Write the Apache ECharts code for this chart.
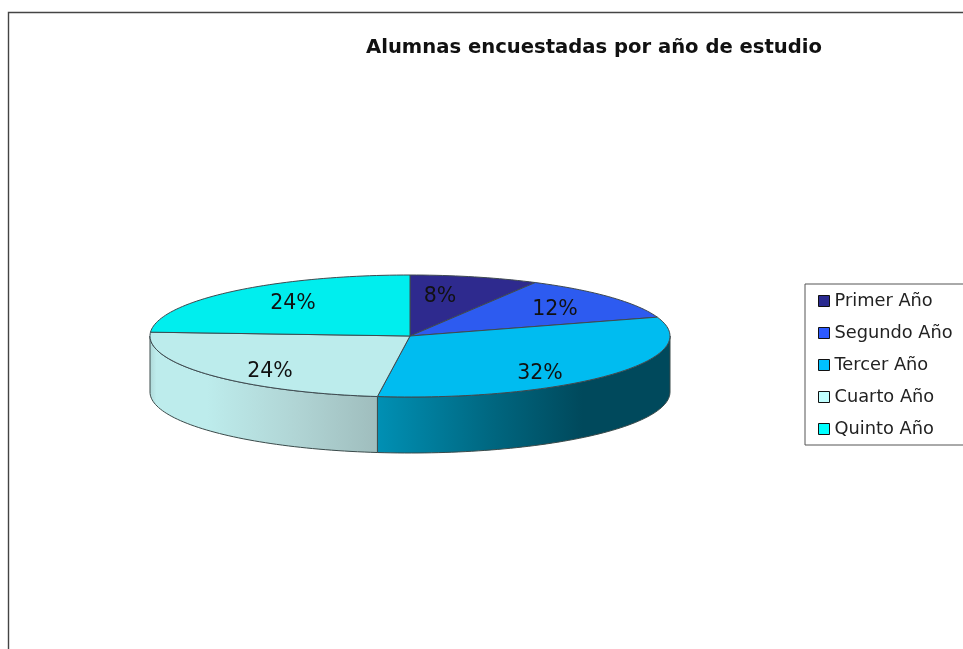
<!DOCTYPE html>
<html>
<head>
<meta charset="utf-8">
<style>html,body{margin:0;padding:0;background:#fff;overflow:hidden}#c{width:963px;height:649px;filter:blur(0.5px)}</style>
<script src="https://cdn.jsdelivr.net/npm/echarts@6/dist/echarts.min.js"></script>
</head>
<body>
<div id="c"></div>
<script>
const categories = ['Primer Año', 'Segundo Año', 'Tercer Año', 'Cuarto Año', 'Quinto Año'];
const values = [8, 12, 32, 24, 24];
const titleText = 'Alumnas encuestadas por año de estudio';

const topColors = ['#2e2a8e', '#2d5bf0', '#00bcf0', '#bcecec', '#00eeee'];
const legendColors = ['#2a2a90', '#2d5aff', '#00c0ff', '#c0ffff', '#00ffff'];
const wallStops = [
  null, null,
  [[0, '#0090b4'], [0.4, '#00667f'], [0.7, '#00495c'], [1, '#00495c']],
  [[0, '#aed8d8'], [0.03, '#bdecec'], [0.25, '#bdecec'], [0.65, '#b0d4d4'], [1, '#9fbdbd']],
  null
];
const labelCentres = [[440, 297], [555, 310], [540, 374], [270, 372], [293, 304]];

const CX = 410, CY = 336, RX = 260, RY = 61, DEPTH = 56;
const total = values.reduce((a, b) => a + b, 0);
const pt = (deg, dy) => {
  const r = deg * Math.PI / 180;
  return [CX + RX * Math.sin(r), CY - RY * Math.cos(r) + (dy || 0)];
};
const arc = (a, b, dy) => {
  const n = Math.max(2, Math.ceil(Math.abs(b - a) / 1.5));
  const out = [];
  for (let i = 0; i <= n; i++) out.push(pt(a + (b - a) * i / n, dy));
  return out;
};

function makeSeries(idx) {
  const before = values.slice(0, idx).reduce((a, b) => a + b, 0);
  return {
    type: 'custom',
    name: categories[idx],
    coordinateSystem: 'none',
    silent: true,
    z: 2,
    itemStyle: { color: legendColors[idx] },
    data: [[values[idx]]],
    renderItem: function (params, api) {
      const v = api.value(0);
      const a0 = before / total * 360;
      const a1 = (before + v) / total * 360;
      const children = [];
      const w0 = Math.max(a0, 90), w1 = Math.min(a1, 270);
      if (w1 > w0 && wallStops[idx]) {
        const pts = arc(w0, w1, 0).concat(arc(w1, w0, DEPTH));
        children.push({
          type: 'polygon',
          shape: { points: pts },
          style: {
            fill: new echarts.graphic.LinearGradient(0, 0, 1, 0,
              wallStops[idx].map(s => ({ offset: s[0], color: s[1] }))),
            stroke: '#3a4a4a', lineWidth: 1
          }
        });
      }
      children.push({
        type: 'polygon',
        shape: { points: [[CX, CY]].concat(arc(a0, a1, 0)) },
        style: { fill: topColors[idx], stroke: '#3f4a50', lineWidth: 1, lineJoin: 'round' }
      });
      children.push({
        type: 'text',
        z2: 10,
        style: {
          x: labelCentres[idx][0], y: labelCentres[idx][1],
          text: Math.round(v / total * 100) + '%',
          fill: '#111', font: '20.5px "DejaVu Sans"',
          align: 'center', verticalAlign: 'middle'
        }
      });
      return { type: 'group', children: children };
    }
  };
}

const chart = echarts.init(document.getElementById('c'), null, { renderer: 'canvas' });
chart.setOption({
  animation: false,
  backgroundColor: '#fff',
  title: {
    text: titleText,
    left: 366, top: 38, padding: 0,
    textStyle: { fontFamily: 'DejaVu Sans', fontWeight: 'bold', fontSize: 19.6, color: '#111' }
  },
  legend: {
    orient: 'vertical',
    left: 805, top: 284,
    padding: [7, 60, 6, 13],
    itemWidth: 11, itemHeight: 11, itemGap: 12,
    borderColor: '#555', borderWidth: 1,
    selectedMode: false,
    icon: 'rect',
    textStyle: { fontFamily: 'DejaVu Sans', fontSize: 17.8, color: '#222', lineHeight: 20 },
    data: categories.map((c, i) => ({
      name: c,
      itemStyle: { color: legendColors[i], borderColor: '#111', borderWidth: 1 }
    }))
  },
  graphic: [{
    type: 'polyline', silent: true, z: 0,
    shape: { points: [[8.5, 649], [8.5, 12.5], [963, 12.5]] },
    style: { fill: null, stroke: '#444', lineWidth: 1.4 }
  }],
  series: categories.map((c, i) => makeSeries(i))
});
</script>
</body>
</html>
